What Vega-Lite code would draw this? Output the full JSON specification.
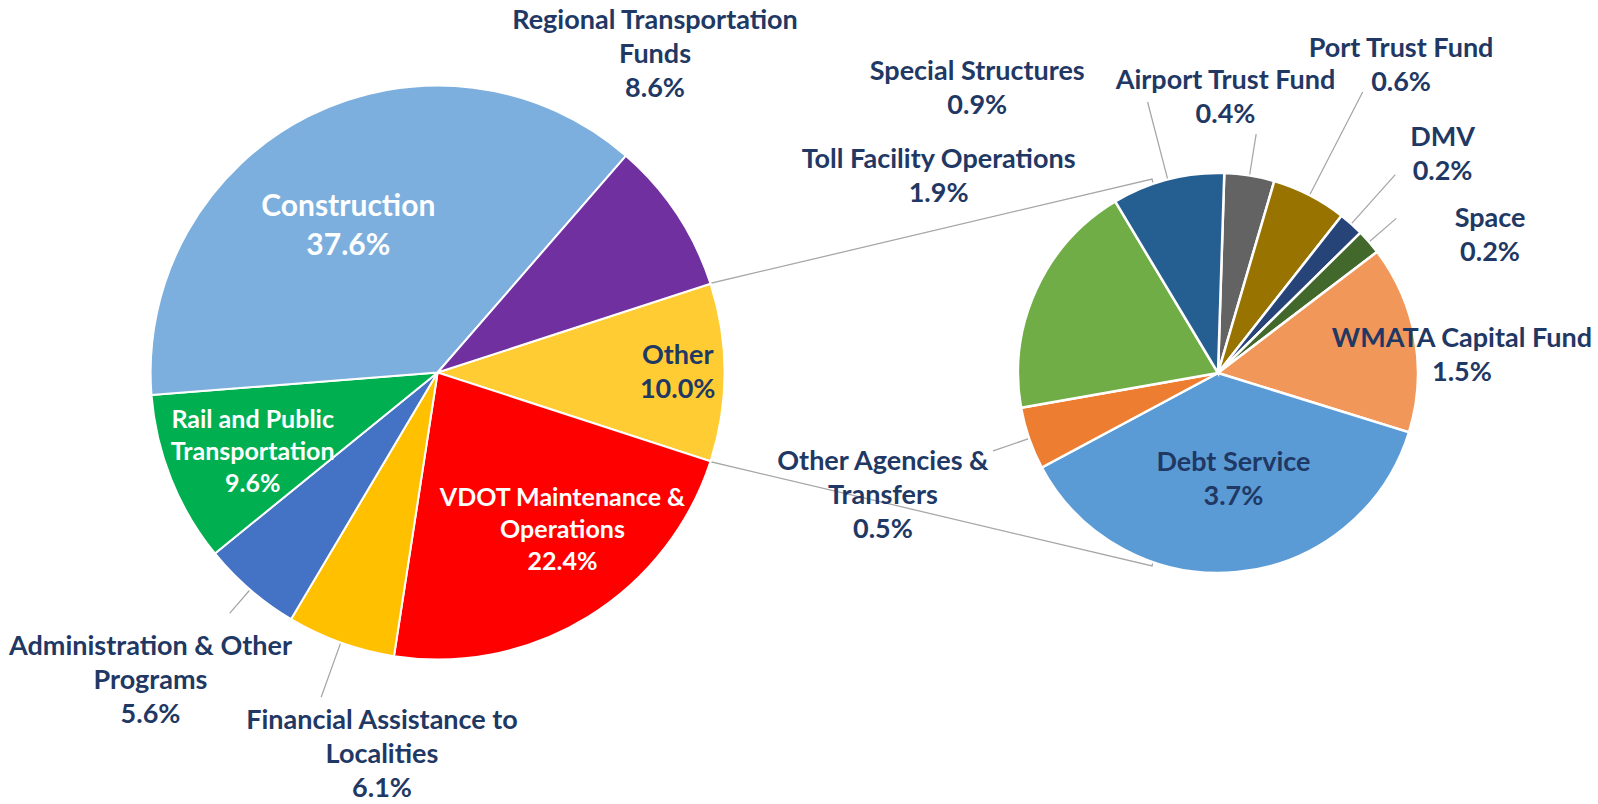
{
  "$schema": "https://vega.github.io/schema/vega-lite/v6.json",
  "width": 1598,
  "height": 804,
  "padding": 0,
  "autosize": {"type": "none"},
  "background": "white",
  "config": {"view": {"stroke": null}, "text": {"font": "Lato", "fontWeight": "bold"}},
  "datasets": {
    "total": [
      {"name": "Other", "label": "Other\n10.0%", "value": 10.0, "pie": "Total"},
      {"name": "VDOT Maintenance & Operations", "label": "VDOT Maintenance &\nOperations\n22.4%", "value": 22.4, "pie": "Total"},
      {"name": "Financial Assistance to Localities", "label": "Financial Assistance to\nLocalities\n6.1%", "value": 6.1, "pie": "Total"},
      {"name": "Administration & Other Programs", "label": "Administration & Other\nPrograms\n5.6%", "value": 5.6, "pie": "Total"},
      {"name": "Rail and Public Transportation", "label": "Rail and Public\nTransportation\n9.6%", "value": 9.6, "pie": "Total"},
      {"name": "Construction", "label": "Construction\n37.6%", "value": 37.6, "pie": "Total"},
      {"name": "Regional Transportation Funds", "label": "Regional Transportation\nFunds\n8.6%", "value": 8.6, "pie": "Total"}
    ],
    "other": [
      {"name": "Airport Trust Fund", "label": "Airport Trust Fund\n0.4%", "value": 0.4, "pie": "Other"},
      {"name": "Port Trust Fund", "label": "Port Trust Fund\n0.6%", "value": 0.6, "pie": "Other"},
      {"name": "DMV", "label": "DMV\n0.2%", "value": 0.2, "pie": "Other"},
      {"name": "Space", "label": "Space\n0.2%", "value": 0.2, "pie": "Other"},
      {"name": "WMATA Capital Fund", "label": "WMATA  Capital Fund\n1.5%", "value": 1.5, "pie": "Other"},
      {"name": "Debt Service", "label": "Debt Service\n3.7%", "value": 3.7, "pie": "Other"},
      {"name": "Other Agencies & Transfers", "label": "Other Agencies &\nTransfers\n0.5%", "value": 0.5, "pie": "Other"},
      {"name": "Toll Facility Operations", "label": "Toll Facility Operations\n1.9%", "value": 1.9, "pie": "Other"},
      {"name": "Special Structures", "label": "Special Structures\n0.9%", "value": 0.9, "pie": "Other"}
    ]
  },
  "resolve": {"scale": {"theta": "independent"}},
  "layer": [
    {
      "data": {"name": "total"},
      "transform": [{"filter": "datum.name === 'Other'"}],
      "mark": {"type": "arc", "innerRadius": 385, "outerRadius": 842, "filled": false, "xOffset": -105, "strokeWidth": 1.25},
      "encoding": {
        "theta": {"datum": 76.72, "type": "quantitative", "scale": {"domain": [0, 360], "range": [0, 6.283185]}},
        "theta2": {"datum": 103.28},
        "x": {"field": "pie", "type": "nominal", "scale": {"domain": ["Total", "Other"], "range": [437.6, 1218], "padding": 0}, "axis": null},
        "y": {"field": "pie", "type": "nominal", "scale": {"domain": ["Total", "Other"], "range": [372.5, 373], "padding": 0}, "axis": null},
        "color": {"value": "#A6A6A6"}
      }
    },
    {
      "data": {"name": "total"},
      "transform": [{"window": [{"op": "row_number", "as": "idx"}]}],
      "encoding": {
        "theta": {"field": "value", "type": "quantitative", "stack": true, "scale": {"range": [1.2563, 7.5395]}},
        "order": {"field": "idx", "type": "quantitative"},
        "x": {"field": "pie", "type": "nominal", "scale": {"domain": ["Total", "Other"], "range": [437.6, 1218], "padding": 0}, "axis": null},
        "y": {"field": "pie", "type": "nominal", "scale": {"domain": ["Total", "Other"], "range": [372.5, 373], "padding": 0}, "axis": null},
        "color": {
          "field": "name", "type": "nominal", "legend": null,
          "scale": {
            "domain": ["Other", "VDOT Maintenance & Operations", "Financial Assistance to Localities", "Administration & Other Programs", "Rail and Public Transportation", "Construction", "Regional Transportation Funds", "Airport Trust Fund", "Port Trust Fund", "DMV", "Space", "WMATA Capital Fund", "Debt Service", "Other Agencies & Transfers", "Toll Facility Operations", "Special Structures"],
            "range": ["#FFCD33", "#FF0000", "#FFC000", "#4472C4", "#00B050", "#7CAFDD", "#7030A0", "#636363", "#997300", "#264478", "#43682B", "#F1975A", "#5B9BD5", "#ED7D31", "#70AD47", "#255E91"]
          }
        }
      },
      "layer": [
        {"mark": {"type": "arc", "outerRadius": 287, "stroke": "white", "strokeWidth": 2}},
        {
          "mark": {"type": "arc", "innerRadius": 288, "outerRadius": 318, "padAngle": 3, "filled": false, "strokeWidth": 1.25},
          "encoding": {"color": {"value": "#A6A6A6"}, "opacity": {"condition": {"test": "datum.name === 'Administration & Other Programs'", "value": 1}, "value": 0}}
        },
        {
          "mark": {"type": "arc", "innerRadius": 288, "outerRadius": 345, "padAngle": 3, "filled": false, "strokeWidth": 1.25},
          "encoding": {"color": {"value": "#A6A6A6"}, "opacity": {"condition": {"test": "datum.name === 'Financial Assistance to Localities'", "value": 1}, "value": 0}}
        },
        {
          "mark": {"type": "text", "radius": 171.3, "dx": -12.2, "dy": -12.7, "fontSize": 30, "lineHeight": 39, "lineBreak": "\n", "align": "center", "baseline": "middle"},
          "encoding": {"text": {"condition": {"test": "datum.name === 'Construction'", "field": "label", "type": "nominal"}, "value": ""}, "color": {"value": "#FFFFFF"}}
        },
        {
          "mark": {"type": "text", "radius": 384.8, "dx": -103.4, "dy": -139.1, "fontSize": 27, "lineHeight": 34, "lineBreak": "\n", "align": "center", "baseline": "middle"},
          "encoding": {"text": {"condition": {"test": "datum.name === 'Regional Transportation Funds'", "field": "label", "type": "nominal"}, "value": ""}, "color": {"value": "#1F3864"}}
        },
        {
          "mark": {"type": "text", "radius": 240.1, "dx": 0, "dy": -16.5, "fontSize": 27, "lineHeight": 34, "lineBreak": "\n", "align": "center", "baseline": "middle"},
          "encoding": {"text": {"condition": {"test": "datum.name === 'Other'", "field": "label", "type": "nominal"}, "value": ""}, "color": {"value": "#1F3864"}}
        },
        {
          "mark": {"type": "text", "radius": 201, "dx": 19.5, "dy": -45.7, "fontSize": 25, "lineHeight": 32, "lineBreak": "\n", "align": "center", "baseline": "middle"},
          "encoding": {"text": {"condition": {"test": "datum.name === 'VDOT Maintenance & Operations'", "field": "label", "type": "nominal"}, "value": ""}, "color": {"value": "#FFFFFF"}}
        },
        {
          "mark": {"type": "text", "radius": 201.3, "dx": 2, "dy": -27.3, "fontSize": 25, "lineHeight": 32, "lineBreak": "\n", "align": "center", "baseline": "middle"},
          "encoding": {"text": {"condition": {"test": "datum.name === 'Rail and Public Transportation'", "field": "label", "type": "nominal"}, "value": ""}, "color": {"value": "#FFFFFF"}}
        },
        {
          "mark": {"type": "text", "radius": 421.1, "dx": -11.9, "dy": -44.7, "fontSize": 27, "lineHeight": 34, "lineBreak": "\n", "align": "center", "baseline": "middle"},
          "encoding": {"text": {"condition": {"test": "datum.name === 'Administration & Other Programs'", "field": "label", "type": "nominal"}, "value": ""}, "color": {"value": "#1F3864"}}
        },
        {
          "mark": {"type": "text", "radius": 390.2, "dx": 76.1, "dy": -18.5, "fontSize": 27, "lineHeight": 34, "lineBreak": "\n", "align": "center", "baseline": "middle"},
          "encoding": {"text": {"condition": {"test": "datum.name === 'Financial Assistance to Localities'", "field": "label", "type": "nominal"}, "value": ""}, "color": {"value": "#1F3864"}}
        }
      ]
    },
    {
      "data": {"name": "other"},
      "transform": [{"window": [{"op": "row_number", "as": "idx"}]}],
      "encoding": {
        "theta": {"field": "value", "type": "quantitative", "stack": true, "scale": {"range": [0.0314, 6.3146]}},
        "order": {"field": "idx", "type": "quantitative"},
        "x": {"field": "pie", "type": "nominal", "scale": {"domain": ["Total", "Other"], "range": [437.6, 1218], "padding": 0}, "axis": null},
        "y": {"field": "pie", "type": "nominal", "scale": {"domain": ["Total", "Other"], "range": [372.5, 373], "padding": 0}, "axis": null},
        "color": {
          "field": "name", "type": "nominal", "legend": null,
          "scale": {
            "domain": ["Other", "VDOT Maintenance & Operations", "Financial Assistance to Localities", "Administration & Other Programs", "Rail and Public Transportation", "Construction", "Regional Transportation Funds", "Airport Trust Fund", "Port Trust Fund", "DMV", "Space", "WMATA Capital Fund", "Debt Service", "Other Agencies & Transfers", "Toll Facility Operations", "Special Structures"],
            "range": ["#FFCD33", "#FF0000", "#FFC000", "#4472C4", "#00B050", "#7CAFDD", "#7030A0", "#636363", "#997300", "#264478", "#43682B", "#F1975A", "#5B9BD5", "#ED7D31", "#70AD47", "#255E91"]
          }
        }
      },
      "layer": [
        {"mark": {"type": "arc", "outerRadius": 200, "stroke": "white", "strokeWidth": 2.5}},
        {
          "mark": {"type": "arc", "innerRadius": 201, "outerRadius": 242, "padAngle": 3, "filled": false, "strokeWidth": 1.25},
          "encoding": {"color": {"value": "#A6A6A6"}, "opacity": {"condition": {"test": "datum.name === 'Airport Trust Fund'", "value": 1}, "value": 0}}
        },
        {
          "mark": {"type": "arc", "innerRadius": 201, "outerRadius": 316, "padAngle": 3, "filled": false, "strokeWidth": 1.25},
          "encoding": {"color": {"value": "#A6A6A6"}, "opacity": {"condition": {"test": "datum.name === 'Port Trust Fund'", "value": 1}, "value": 0}}
        },
        {
          "mark": {"type": "arc", "innerRadius": 201, "outerRadius": 266, "padAngle": 3, "filled": false, "strokeWidth": 1.25},
          "encoding": {"color": {"value": "#A6A6A6"}, "opacity": {"condition": {"test": "datum.name === 'DMV'", "value": 1}, "value": 0}}
        },
        {
          "mark": {"type": "arc", "innerRadius": 201, "outerRadius": 236, "padAngle": 3, "filled": false, "strokeWidth": 1.25},
          "encoding": {"color": {"value": "#A6A6A6"}, "opacity": {"condition": {"test": "datum.name === 'Space'", "value": 1}, "value": 0}}
        },
        {
          "mark": {"type": "arc", "innerRadius": 201, "outerRadius": 280, "padAngle": 3, "filled": false, "strokeWidth": 1.25},
          "encoding": {"color": {"value": "#A6A6A6"}, "opacity": {"condition": {"test": "datum.name === 'Special Structures'", "value": 1}, "value": 0}}
        },
        {
          "mark": {"type": "arc", "innerRadius": 201, "outerRadius": 238, "padAngle": 3, "filled": false, "strokeWidth": 1.25},
          "encoding": {"color": {"value": "#A6A6A6"}, "opacity": {"condition": {"test": "datum.name === 'Other Agencies & Transfers'", "value": 1}, "value": 0}}
        },
        {
          "mark": {"type": "text", "radius": 108.4, "dx": 5.1, "dy": -17.6, "fontSize": 27, "lineHeight": 34, "lineBreak": "\n", "align": "center", "baseline": "middle"},
          "encoding": {"text": {"condition": {"test": "datum.name === 'Debt Service'", "field": "label", "type": "nominal"}, "value": ""}, "color": {"value": "#1F3864"}}
        },
        {
          "mark": {"type": "text", "radius": 252.6, "dx": -4.8, "dy": 9.8, "fontSize": 27, "lineHeight": 34, "lineBreak": "\n", "align": "center", "baseline": "middle"},
          "encoding": {"text": {"condition": {"test": "datum.name === 'WMATA Capital Fund'", "field": "label", "type": "nominal"}, "value": ""}, "color": {"value": "#1F3864"}}
        },
        {
          "mark": {"type": "text", "radius": 304.6, "dx": 41.9, "dy": 45.4, "fontSize": 27, "lineHeight": 34, "lineBreak": "\n", "align": "center", "baseline": "middle"},
          "encoding": {"text": {"condition": {"test": "datum.name === 'Space'", "field": "label", "type": "nominal"}, "value": ""}, "color": {"value": "#1F3864"}}
        },
        {
          "mark": {"type": "text", "radius": 312.9, "dx": 16, "dy": -1.7, "fontSize": 27, "lineHeight": 34, "lineBreak": "\n", "align": "center", "baseline": "middle"},
          "encoding": {"text": {"condition": {"test": "datum.name === 'DMV'", "field": "label", "type": "nominal"}, "value": ""}, "color": {"value": "#1F3864"}}
        },
        {
          "mark": {"type": "text", "radius": 357.8, "dx": 19.2, "dy": -6.4, "fontSize": 27, "lineHeight": 34, "lineBreak": "\n", "align": "center", "baseline": "middle"},
          "encoding": {"text": {"condition": {"test": "datum.name === 'Port Trust Fund'", "field": "label", "type": "nominal"}, "value": ""}, "color": {"value": "#1F3864"}}
        },
        {
          "mark": {"type": "text", "radius": 274.8, "dx": -35.8, "dy": -20.3, "fontSize": 27, "lineHeight": 34, "lineBreak": "\n", "align": "center", "baseline": "middle"},
          "encoding": {"text": {"condition": {"test": "datum.name === 'Airport Trust Fund'", "field": "label", "type": "nominal"}, "value": ""}, "color": {"value": "#1F3864"}}
        },
        {
          "mark": {"type": "text", "radius": 372.4, "dx": -147.1, "dy": 59.2, "fontSize": 27, "lineHeight": 34, "lineBreak": "\n", "align": "center", "baseline": "middle"},
          "encoding": {"text": {"condition": {"test": "datum.name === 'Special Structures'", "field": "label", "type": "nominal"}, "value": ""}, "color": {"value": "#1F3864"}}
        },
        {
          "mark": {"type": "text", "radius": 341.5, "dx": 31.3, "dy": -71.5, "fontSize": 27, "lineHeight": 34, "lineBreak": "\n", "align": "center", "baseline": "middle"},
          "encoding": {"text": {"condition": {"test": "datum.name === 'Toll Facility Operations'", "field": "label", "type": "nominal"}, "value": ""}, "color": {"value": "#1F3864"}}
        },
        {
          "mark": {"type": "text", "radius": 356.9, "dx": 2.2, "dy": -27.8, "fontSize": 27, "lineHeight": 34, "lineBreak": "\n", "align": "center", "baseline": "middle"},
          "encoding": {"text": {"condition": {"test": "datum.name === 'Other Agencies & Transfers'", "field": "label", "type": "nominal"}, "value": ""}, "color": {"value": "#1F3864"}}
        }
      ]
    }
  ]
}
